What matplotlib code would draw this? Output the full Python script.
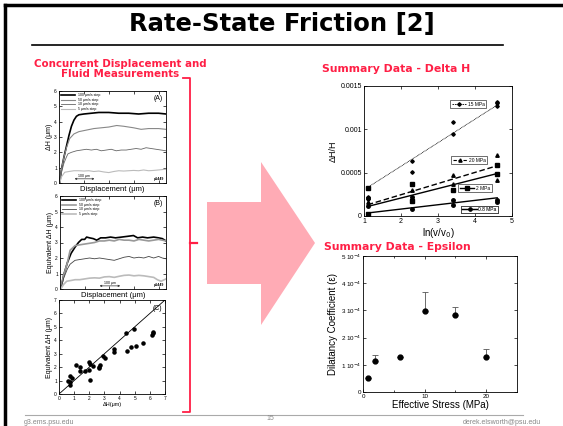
import matplotlib.pyplot as plt
from matplotlib.lines import Line2D
from matplotlib.patches import Polygon

plt.rcParams['font.family'] = ['Liberation Sans', 'DejaVu Sans']

# ---- panel A: delta H vs displacement (um) ----
a_labels = ['100 μm/s step', '50 μm/s step', '10 μm/s step', '5 μm/s step']
a100_x = [3, 10, 20, 30, 40, 50, 60, 70, 80, 100, 130, 160, 200, 240, 280, 320, 360, 400, 430]
a100_y = [0, 0.9, 1.7, 2.4, 3.1, 3.7, 4.1, 4.35, 4.45, 4.5, 4.55, 4.6, 4.6, 4.55, 4.55, 4.5, 4.55, 4.55, 4.5]
a50_x = [3, 10, 20, 30, 43, 60, 80, 110, 140, 170, 200, 232, 260, 300, 330, 360, 400, 430]
a50_y = [0, 0.9, 1.7, 2.3, 2.9, 3.2, 3.35, 3.45, 3.55, 3.6, 3.65, 3.75, 3.7, 3.6, 3.5, 3.55, 3.55, 3.5]
a10_x = [3, 10, 20, 30, 36, 50, 70, 90, 110, 130, 150, 170, 190, 210, 230, 250, 270, 290, 310, 330, 350, 370, 390, 410, 430]
a10_y = [0, 0.7, 1.3, 1.7, 1.9, 2.0, 2.1, 2.15, 2.2, 2.15, 2.2, 2.1, 2.15, 2.2, 2.1, 2.15, 2.15, 2.2, 2.25, 2.2, 2.3, 2.25, 2.2, 2.15, 2.1]
a5_x = [3, 10, 23, 40, 60, 80, 100, 120, 140, 160, 180, 200, 220, 240, 260, 280, 300, 320, 340, 360, 380, 400, 430]
a5_y = [0, 0.4, 0.7, 0.75, 0.8, 0.8, 0.78, 0.8, 0.75, 0.78, 0.72, 0.68, 0.75, 0.8, 0.78, 0.8, 0.82, 0.8, 0.85, 0.8, 0.82, 0.85, 0.9]

# ---- panel B: equivalent delta H from fluid ----
b100_x = [3, 15, 30, 45, 61, 75, 88, 100, 108, 120, 135, 149, 165, 185, 205, 225, 250, 275, 298, 315, 335, 355, 380, 400, 415, 430]
b100_y = [0, 0.9, 1.7, 2.3, 2.7, 3.0, 3.2, 3.2, 3.35, 3.3, 3.25, 3.15, 3.3, 3.3, 3.35, 3.3, 3.35, 3.4, 3.45, 3.3, 3.35, 3.3, 3.35, 3.3, 3.25, 3.1]
b50_x = [3, 15, 30, 41, 61, 80, 100, 120, 140, 160, 180, 200, 220, 240, 260, 280, 300, 320, 340, 360, 380, 400, 430]
b50_y = [0, 0.9, 1.7, 2.5, 2.8, 2.85, 2.9, 2.95, 3.0, 3.1, 3.1, 3.15, 3.1, 3.2, 3.15, 3.15, 3.1, 3.2, 3.15, 3.1, 3.15, 3.2, 3.1]
b10_x = [3, 15, 30, 41, 61, 80, 100, 120, 140, 160, 180, 200, 220, 240, 260, 280, 300, 320, 340, 360, 380, 400, 415, 430]
b10_y = [0, 0.7, 1.3, 1.6, 1.85, 1.9, 1.95, 2.0, 1.95, 2.0, 1.95, 1.9, 1.85, 1.95, 2.05, 2.1, 2.0, 2.05, 2.0, 2.1, 2.0, 2.1, 2.0, 1.95]
b5_x = [3, 15, 27, 45, 61, 80, 100, 120, 140, 160, 180, 200, 220, 240, 260, 280, 300, 320, 340, 360, 380, 395, 410, 430]
b5_y = [0, 0.3, 0.5, 0.55, 0.6, 0.6, 0.65, 0.7, 0.72, 0.7, 0.78, 0.8, 0.75, 0.82, 0.88, 0.9, 0.85, 0.88, 0.85, 0.8, 0.75, 0.6, 0.5, 0.65]

# ---- panel C: measured vs equivalent ----
c_dh = [0.62, 0.75, 0.71, 0.84, 0.75, 1.15, 1.39, 1.41, 1.7, 1.96, 1.96, 2.03, 2.07, 2.25, 2.63,
        2.69, 2.65, 2.91, 3.02, 3.62, 3.66, 4.46, 4.41, 4.77, 4.94, 5.08, 5.56, 6.14, 6.22, 6.18]
c_eq = [0.95, 0.92, 1.32, 1.2, 0.7, 2.15, 1.7, 2.02, 1.68, 1.82, 2.38, 2.22, 1.02, 2.12, 2.02,
        2.17, 1.95, 2.8, 2.67, 3.35, 3.15, 3.2, 4.57, 3.5, 4.87, 3.58, 3.82, 4.37, 4.62, 4.52]

# ---- summary delta H/H vs ln(v/v0) ----
d15_x = [1.1, 1.1, 2.3, 2.3, 3.4, 3.4, 4.6, 4.6, 4.6]
d15_y = [0.00022, 0.00020, 0.00063, 0.00051, 0.00109, 0.00095, 0.00132, 0.00130, 0.00127]
d20_x = [1.1, 2.3, 3.4, 3.4, 4.6, 4.6]
d20_y = [0.00016, 0.00030, 0.00047, 0.00037, 0.00070, 0.00041]
d2_x = [1.1, 1.1, 2.3, 2.3, 3.4, 4.6, 4.6]
d2_y = [0.00032, 0.00002, 0.00037, 0.00017, 0.00030, 0.00059, 0.00049]
d08_x = [1.1, 1.1, 2.3, 2.3, 2.3, 3.4, 3.4, 4.6, 4.6]
d08_y = [0.00011, 0.00021, 0.00008, 0.00022, 0.00019, 0.00018, 0.00013, 0.00019, 0.00016]
fit_x = [1.1, 4.6]
fit15 = [0.00033, 0.00128]
fit20 = [0.00013, 0.00058]
fit2 = [0.00011, 0.00049]
fit08 = [0.000035, 0.00021]

# ---- summary epsilon ----
eps_stress = [0.8, 2, 6, 10, 15, 20]
eps_val = [0.5e-4, 1.15e-4, 1.27e-4, 2.96e-4, 2.83e-4, 1.3e-4]
eps_err = [0, 0.2e-4, 0, 0.71e-4, 0.28e-4, 0.28e-4]
eps_ticklabels = ['0', '1 10$^{-4}$', '2 10$^{-4}$', '3 10$^{-4}$', '4 10$^{-4}$', '5 10$^{-4}$']

W, H = 563, 426
RED = '#ff1f45'
fig = plt.figure(figsize=(W / 100, H / 100), dpi=100)


def box(l, t, r, b):
    return fig.add_axes([l / W, 1 - b / H, (r - l) / W, (b - t) / H])


def style(ax, size):
    ax.tick_params(which='both', direction='in', top=True, right=True,
                   length=2, width=0.5, labelsize=size, pad=1.5)
    ax.tick_params(which='minor', length=1.2)
    for s in ax.spines.values():
        s.set_linewidth(0.6)


# slide decorations
ov = fig.add_axes([0, 0, 1, 1])
ov.set_xlim(0, W)
ov.set_ylim(H, 0)
ov.axis('off')
ov.plot([5, W], [5, 5], color='black', lw=2.5)
ov.plot([5, 5], [5, H], color='black', lw=2.5)
ov.plot([32, 503], [45, 45], color='black', lw=1.2)
ov.plot([25, 523], [415, 415], color='#aaaaaa', lw=0.8)
ov.text(282, 24, 'Rate-State Friction [2]', ha='center', va='center',
        fontsize=17.5, fontweight='bold', family='DejaVu Sans')
ov.text(120, 69, 'Concurrent Displacement and\nFluid Measurements', ha='center', va='center',
        fontsize=7.4, fontweight='bold', color=RED, family='DejaVu Sans', linespacing=1.05)
ov.plot([183, 190, 190, 183], [78, 78, 412, 412], color=RED, lw=1.3)
ov.plot([190, 197], [243, 243], color=RED, lw=1.6)
ov.add_patch(Polygon([[207, 202], [261, 202], [261, 162], [315, 243], [261, 325], [261, 284], [207, 284]],
                     closed=True, color='#ffabb5', lw=0))
ov.text(396, 69, 'Summary Data - Delta H', ha='center', va='center',
        fontsize=7.8, fontweight='bold', color=RED, family='DejaVu Sans')
ov.text(397, 247, 'Summary Data - Epsilon', ha='center', va='center',
        fontsize=7.8, fontweight='bold', color=RED, family='DejaVu Sans')
ov.text(24, 423, 'g3.ems.psu.edu', ha='left', va='center', fontsize=5, color='#888888')
ov.text(270, 419, '15', ha='center', va='center', fontsize=5, color='#888888')
ov.text(541, 423, 'derek.elsworth@psu.edu', ha='right', va='center', fontsize=5, color='#888888')

# panel A
axA = box(59, 91, 166, 183)
for xs, ys, c, lw, lab in [(a100_x, a100_y, 'black', 1.2, a_labels[0]),
                           (a50_x, a50_y, '#888888', 0.8, a_labels[1]),
                           (a10_x, a10_y, '#666666', 0.6, a_labels[2]),
                           (a5_x, a5_y, '#bbbbbb', 0.8, a_labels[3])]:
    axA.plot(xs, ys, color=c, lw=lw, label=lab)
axA.set_xlim(0, 430)
axA.set_ylim(0, 6)
axA.set_xticks([0, 100, 200, 300, 400])
axA.set_xticklabels([])
style(axA, 3.5)
axA.set_xlabel('Displacement (μm)', fontsize=5.5, labelpad=1)
axA.set_ylabel('ΔH (μm)', fontsize=5, labelpad=1)
axA.legend(loc='upper left', fontsize=2.5, frameon=False, handlelength=4,
           borderaxespad=0.3, labelspacing=0.15)
axA.text(0.97, 0.96, '(A)', transform=axA.transAxes, ha='right', va='top', fontsize=5)
axA.text(0.98, 0.02, 'p1449', transform=axA.transAxes, ha='right', va='bottom',
         fontsize=2.5, fontweight='bold')
axA.annotate('', xy=(52, 0.27), xytext=(153, 0.27),
             arrowprops=dict(arrowstyle='<->', lw=0.4, mutation_scale=3))
axA.text(102, 0.42, '100 μm', fontsize=2.5, ha='center')

# panel B
axB = box(60, 196, 166, 289)
for xs, ys, c, lw, lab in [(b100_x, b100_y, 'black', 1.2, a_labels[0]),
                           (b50_x, b50_y, '#999999', 1.2, a_labels[1]),
                           (b10_x, b10_y, '#444444', 0.6, a_labels[2]),
                           (b5_x, b5_y, '#bbbbbb', 1.2, a_labels[3])]:
    axB.plot(xs, ys, color=c, lw=lw, label=lab)
axB.set_xlim(0, 430)
axB.set_ylim(0, 6)
axB.set_xticks([0, 100, 200, 300, 400])
axB.set_xticklabels([])
style(axB, 3.5)
axB.set_xlabel('Displacement (μm)', fontsize=5.5, labelpad=1)
axB.set_ylabel('Equivalent ΔH (μm)', fontsize=5, labelpad=1)
axB.legend(loc='upper left', fontsize=2.5, frameon=False, handlelength=4,
           borderaxespad=0.3, labelspacing=0.15)
axB.text(0.97, 0.96, '(B)', transform=axB.transAxes, ha='right', va='top', fontsize=5)
axB.text(0.98, 0.02, 'p1449', transform=axB.transAxes, ha='right', va='bottom',
         fontsize=2.5, fontweight='bold')
axB.annotate('', xy=(150, 0.2), xytext=(255, 0.2),
             arrowprops=dict(arrowstyle='<->', lw=0.4, mutation_scale=3))
axB.text(202, 0.35, '100 μm', fontsize=2.5, ha='center')

# panel C
axC = box(59, 300, 165, 394)
axC.scatter(c_dh, c_eq, s=5, color='black', zorder=3)
axC.axline((0, 0), slope=1, color='black', lw=0.6)
axC.set_xlim(0, 7)
axC.set_ylim(0, 7)
axC.set_xticks(range(8))
axC.set_yticks(range(8))
style(axC, 3.5)
axC.set_xlabel('ΔH(μm)', fontsize=4, labelpad=1)
axC.set_ylabel('Equivalent ΔH (μm)', fontsize=5, labelpad=1)
axC.text(0.97, 0.95, '(C)', transform=axC.transAxes, ha='right', va='top', fontsize=5)

# summary delta H
axD = box(364, 86, 512, 216)
axD.plot(d15_x, d15_y, 'D', color='black', ms=1.8, ls='none')
axD.plot(d20_x, d20_y, '^', color='black', ms=2.5, ls='none')
axD.plot(d2_x, d2_y, 's', color='black', ms=3, ls='none')
axD.plot(d08_x, d08_y, 'o', color='black', ms=2.5, ls='none')
axD.plot(fit_x, fit15, color='black', lw=0.6, ls=(0, (1, 0.8)))
axD.plot(fit_x, fit20, color='black', lw=1.0, ls=(0, (4, 2)))
axD.plot(fit_x, fit2, color='black', lw=1.0)
axD.plot(fit_x, fit08, color='black', lw=1.0)
axD.set_xlim(1, 5)
axD.set_ylim(0, 0.0015)
axD.set_xticks([1, 2, 3, 4, 5])
axD.set_yticks([0, 0.0005, 0.001, 0.0015])
axD.set_yticklabels(['0', '0.0005', '0.001', '0.0015'])
style(axD, 5)
axD.set_xlabel('ln(v/v$_0$)', fontsize=7, labelpad=1)
axD.set_ylabel('ΔH/H', fontsize=6.5, labelpad=2)
for h, lab, xy in [(Line2D([], [], color='black', lw=0.6, ls=(0, (2, 1)), marker='D', ms=1.8), '15 MPa', (0.705, 0.86)),
                   (Line2D([], [], color='black', lw=0.8, ls=(0, (3, 1.5)), marker='^', ms=2.3), '20 MPa', (0.71, 0.43)),
                   (Line2D([], [], color='black', lw=1.0, marker='s', ms=2.8), '2 MPa', (0.75, 0.215)),
                   (Line2D([], [], color='black', lw=1.0, marker='o', ms=2.3), '0.8 MPa', (0.78, 0.05))]:
    lg = axD.legend(handles=[h], labels=[lab], loc='center', bbox_to_anchor=xy, fontsize=3.5,
                    frameon=True, fancybox=False, edgecolor='black', handlelength=3,
                    borderpad=0.3, handletextpad=0.3, borderaxespad=0)
    lg.get_frame().set_linewidth(0.5)
    axD.add_artist(lg)

# summary epsilon
axE = box(363, 256, 517, 392)
axE.errorbar(eps_stress, eps_val, yerr=[[0] * len(eps_err), eps_err], fmt='o', color='black',
             ms=3.5, ecolor='#555555', elinewidth=0.6, capsize=2, capthick=0.6)
axE.set_xlim(0, 25)
axE.set_ylim(0, 5e-4)
axE.set_xticks([0, 10, 20])
axE.set_xticks([5, 15], minor=True)
axE.set_yticks([0, 1e-4, 2e-4, 3e-4, 4e-4, 5e-4])
axE.set_yticklabels(eps_ticklabels)
style(axE, 4.5)
axE.set_xlabel('Effective Stress (MPa)', fontsize=7, labelpad=1)
axE.set_ylabel('Dilatancy Coefficient (ε)', fontsize=7, labelpad=2)

fig.savefig('out.png', dpi=100)
